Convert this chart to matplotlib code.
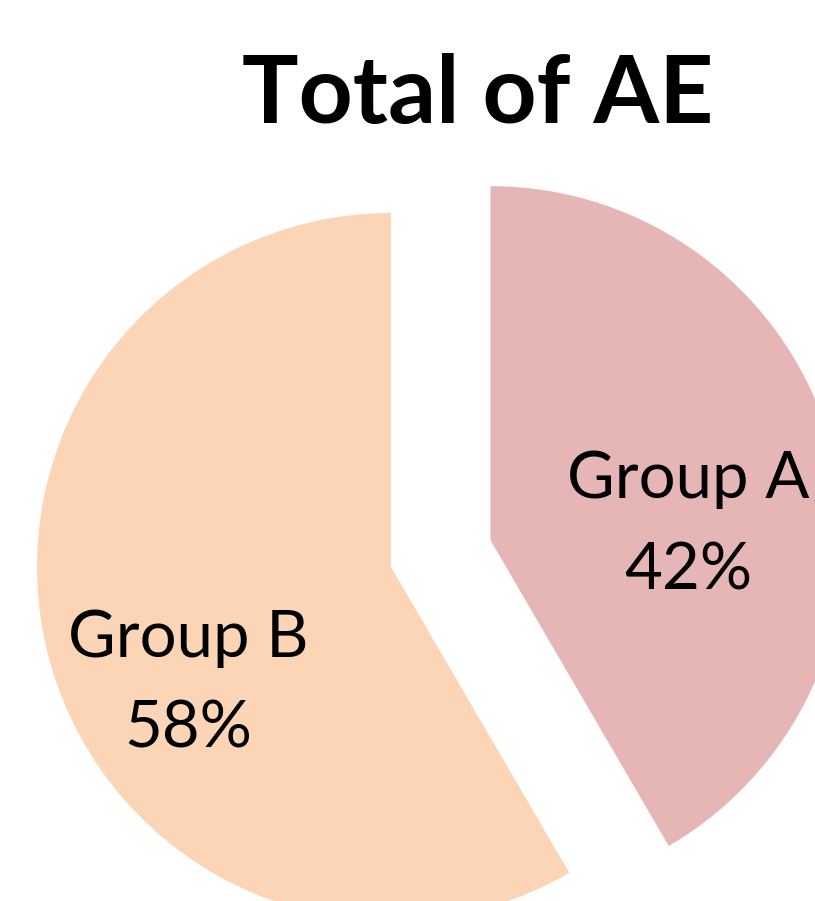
import matplotlib
matplotlib.use("Agg")
import matplotlib.pyplot as plt

categories = ["Group A", "Group B"]
values = [41.6, 58.4]
pct_labels = ["42%", "58%"]
colors = ["#E6B6B6", "#FBD5B5"]
title = "Total of AE"

W, H = 815, 901
fig = plt.figure(figsize=(W / 100, H / 100), dpi=100)
ax = fig.add_axes([0, 0, 1, 1])

R = 354
ax.pie(values, colors=colors, startangle=90, counterclock=False,
       explode=[0.291 * R, 0], center=(391, H - 567), radius=R,
       wedgeprops=dict(linewidth=0), frame=True)
ax.set_xlim(0, W)
ax.set_ylim(0, H)
ax.set_aspect("equal")
ax.axis("off")

font = "Lato"
ax.text(477.5, H - 123, title, ha="center", va="baseline",
        fontsize=68, fontweight="bold", family=font)

label_pos = {"Group A": (688, 498, 589), "Group B": (188, 657, 747)}
for cat, p in zip(categories, pct_labels):
    x, y1, y2 = label_pos[cat]
    ax.text(x, H - y1, cat, ha="center", va="baseline", fontsize=47, family=font)
    ax.text(x, H - y2, p, ha="center", va="baseline", fontsize=47, family=font)

fig.savefig("out.png", dpi=100)
